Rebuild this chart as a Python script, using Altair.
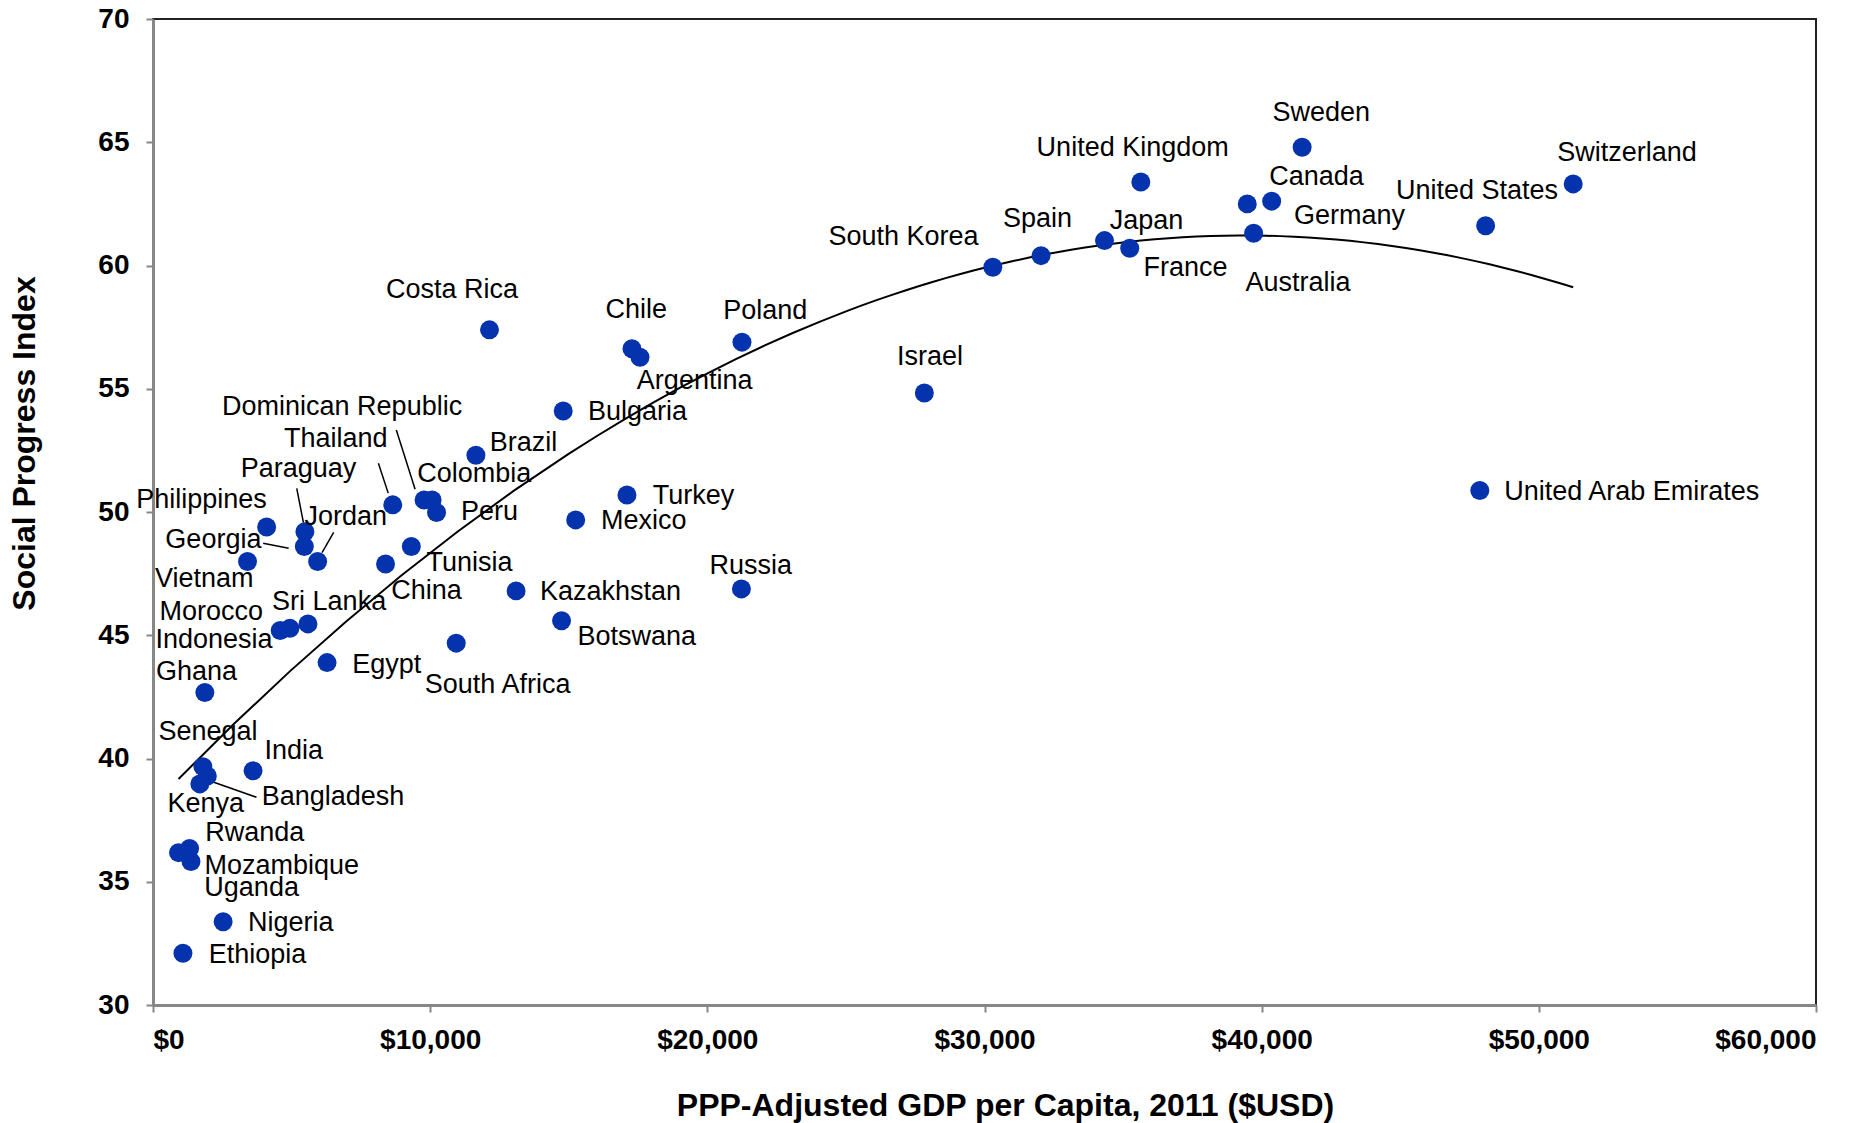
import altair as alt
import pandas as pd

# ---- data ----
countries = [
    "Sweden", "United Kingdom", "Switzerland", "Canada", "Germany", "United States",
    "Australia", "Japan", "France", "Spain", "South Korea", "Israel", "Poland", "Chile",
    "Argentina", "Costa Rica", "Bulgaria", "Brazil", "Dominican Republic", "Colombia",
    "Peru", "Thailand", "Turkey", "Mexico", "Philippines", "Paraguay", "Georgia", "Jordan",
    "Vietnam", "China", "Tunisia", "Kazakhstan", "Russia", "Botswana", "Sri Lanka",
    "Morocco", "Indonesia", "South Africa", "Egypt", "Ghana", "Senegal", "Bangladesh",
    "Kenya", "India", "Mozambique", "Rwanda", "Uganda", "Nigeria", "Ethiopia",
    "United Arab Emirates",
]
gdp_per_capita = [
    41460, 35640, 51240, 40360, 39480, 48080,
    39710, 34330, 35240, 32040, 30300, 27830, 21250, 17280,
    17570, 12140, 14800, 11650, 9780, 10070,
    10230, 8650, 17100, 15250, 4100, 5480, 5460, 5940,
    3410, 8390, 9320, 13100, 21230, 14740, 5590,
    4940, 4590, 10940, 6280, 1870, 1800, 1960,
    1690, 3610, 920, 1320, 1370, 2530, 1080,
    47870,
]
social_progress = [
    64.80, 63.39, 63.31, 62.61, 62.50, 61.61,
    61.31, 61.01, 60.70, 60.40, 59.93, 54.83, 56.89, 56.62,
    56.28, 57.39, 54.10, 52.30, 50.49, 50.49,
    49.98, 50.29, 50.69, 49.68, 49.39, 49.20, 48.60, 47.99,
    47.99, 47.89, 48.60, 46.80, 46.88, 45.59, 45.46,
    45.28, 45.19, 44.68, 43.89, 42.68, 39.67, 39.29,
    38.97, 39.50, 36.18, 36.35, 35.82, 33.38, 32.10,
    50.87,
]

x_ticks = [0, 10000, 20000, 30000, 40000, 50000, 60000]
y_ticks = [30, 35, 40, 45, 50, 55, 60, 65, 70]

# ---- layout: label placement as pixel offsets from each point ----
S = 1876 / 1568
W, H = 1663, 986
X_DOMAIN, Y_DOMAIN = [0, 60000], [30, 70]

label_offsets = {
    "Sweden": (16, -28.4), "United Kingdom": (-6.8, -28.1), "Switzerland": (45, -25.6),
    "Canada": (37.5, -19.8), "Germany": (85.4, 10), "United States": (-7.2, -28.7),
    "Australia": (37, 41.3), "Japan": (35.1, -16.8), "France": (46.7, 16.7),
    "Spain": (-3, -30.4), "South Korea": (-74.7, -25), "Israel": (4.8, -30.4),
    "Poland": (19.4, -26.4), "Chile": (3.7, -32.6), "Argentina": (45.7, 20.3),
    "Costa Rica": (-31.3, -33.4), "Bulgaria": (62.1, 1.1), "Brazil": (39.7, -10),
    "Dominican Republic": (-68.5, -77.4), "Colombia": (35.3, -21.7), "Peru": (44.2, 0),
    "Thailand": (-47.6, -54.9), "Turkey": (55.7, 0.9), "Mexico": (56.9, 0.6),
    "Philippines": (-54.4, -22.6), "Paraguay": (-5.3, -52.1), "Georgia": (-76, -5.5),
    "Jordan": (23.5, -37.6), "Vietnam": (-36.1, 14.7), "China": (34.3, 22.3),
    "Tunisia": (48.7, 13.4), "Kazakhstan": (78.9, 1.1), "Russia": (7.8, -19.5),
    "Botswana": (62.9, 13.4), "Sri Lanka": (17.7, -17.9), "Morocco": (-65.8, -13.9),
    "Indonesia": (-55.4, 8.3), "South Africa": (34.6, 35.1), "Egypt": (49.8, 1.9),
    "Ghana": (-6.9, -16.7), "Senegal": (4.3, -29.2), "Bangladesh": (105, 17.8),
    "Kenya": (5, 16.7), "India": (34.1, -16.5), "Mozambique": (86.3, 11.1),
    "Rwanda": (54.4, -12.6), "Uganda": (50.7, 22.3), "Nigeria": (56.5, 1.4),
    "Ethiopia": (62.3, 1.4), "United Arab Emirates": (127, 1),
}
leader_offsets = {
    "Dominican Republic": ((-7.5, -8.9), (-23.2, -58.5)),
    "Thailand": ((-3.8, -9.8), (-12, -34.8)),
    "Paraguay": ((-1.2, -7.5), (-6.8, -36.2)),
    "Georgia": ((-13.1, 1.5), (-34.4, -2.7)),
    "Jordan": ((3.7, -7.5), (13.4, -24.3)),
    "Bangladesh": ((1.9, 4.0), (41.1, 17.8)),
}

points = pd.DataFrame({"country": countries, "gdp": gdp_per_capita, "spi": social_progress})

# leader segments: point position shifted by pixel offsets, converted through the scale ratio
px_x = (X_DOMAIN[1] - X_DOMAIN[0]) / W
px_y = (Y_DOMAIN[1] - Y_DOMAIN[0]) / H
lead_rows = []
for c, (a, b) in leader_offsets.items():
    i = countries.index(c)
    gx, sy = gdp_per_capita[i], social_progress[i]
    lead_rows.append({
        "country": c,
        "gdp": gx + a[0] * S * px_x, "spi": sy - a[1] * S * px_y,
        "gdp2": gx + b[0] * S * px_x, "spi2": sy - b[1] * S * px_y,
    })
leaders = pd.DataFrame(lead_rows)

FONT = "Liberation Sans"

x_scale = alt.Scale(domain=X_DOMAIN, nice=False, zero=False)
y_scale = alt.Scale(domain=Y_DOMAIN, nice=False, zero=False)
x_axis = alt.Axis(values=x_ticks, format="$,.0f",
                  title="PPP-Adjusted GDP per Capita, 2011 ($USD)",
                  titlePadding=36, labelPadding=14, titleX=852)
y_axis = alt.Axis(values=y_ticks, title="Social Progress Index",
                  labelPadding=17, titleX=-112, titleY=424)
x_enc = alt.X("gdp:Q", scale=x_scale, axis=x_axis)
y_enc = alt.Y("spi:Q", scale=y_scale, axis=y_axis)

base = alt.Chart(points)

trend = base.transform_regression("gdp", "spi", method="poly", order=2).mark_line(
    color="black", strokeWidth=2
).encode(x=x_enc, y=y_enc)

leader_lines = alt.Chart(leaders).mark_rule(color="black", strokeWidth=1.5).encode(
    x=x_enc, y=y_enc, x2="gdp2:Q", y2="spi2:Q"
)

dots = base.mark_circle(size=360, color="#0533AE", opacity=1).encode(x=x_enc, y=y_enc)

label_layers = []
for c in countries:
    dx, dy = label_offsets[c]
    label_layers.append(
        base.transform_filter(alt.datum.country == c).mark_text(
            font=FONT, fontSize=27, color="black", align="center", baseline="middle",
            dx=dx * S, dy=dy * S,
        ).encode(x=x_enc, y=y_enc, text="country:N")
    )

chart = alt.layer(trend, leader_lines, dots, *label_layers).properties(
    width=W, height=H,
    autosize=alt.AutoSizeParams(type="none"),
    padding={"left": 153, "top": 19, "right": 60, "bottom": 118},
    background="white",
).configure_view(
    stroke="#222222", strokeWidth=2
).configure_axis(
    labelFont=FONT, labelFontSize=28, labelFontWeight="bold", labelColor="black",
    titleFont=FONT, titleFontSize=32, titleFontWeight="bold", titleColor="black",
    domainColor="#878787", domainWidth=3, tickColor="#878787", tickWidth=2, tickSize=7,
    grid=False,
)

chart.save("out.html", embed_options={"renderer": "svg", "actions": False})
